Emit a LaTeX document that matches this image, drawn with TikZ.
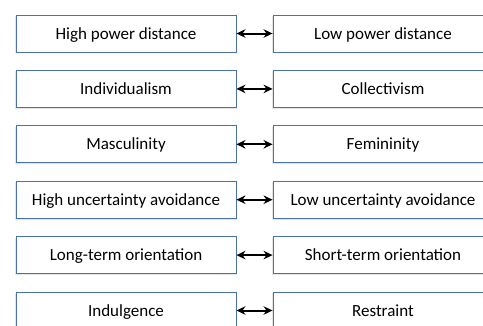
\documentclass[tikz,border=0pt]{standalone}
\usepackage{fontspec}
\setmainfont{Carlito}
\usetikzlibrary{arrows.meta,shadows}
\definecolor{boxblue}{HTML}{4A6FB5}
\tikzset{
  dim/.style={draw=boxblue, line width=0.9pt, fill=white, minimum width=220pt, minimum height=37pt,
    inner sep=0pt, text height=11pt, text depth=0pt, font=\fontsize{17pt}{20pt}\selectfont,
    drop shadow={opacity=0.2, shadow xshift=0pt, shadow yshift=-1.2pt, shadow scale=1.008}},
  link/.style={line width=2pt, {Stealth[length=9pt,width=8.5pt]}-{Stealth[length=9pt,width=8.5pt]}}
}
\begin{document}
\begin{tikzpicture}[x=1pt,y=-1pt]
\useasboundingbox (0,0) rectangle (483,325);
\clip (0,0) rectangle (483,325);
\fill[white] (0,0) rectangle (483,325);
\foreach \i/\l/\r in {0/High power distance/Low power distance,
                      1/Individualism/Collectivism,
                      2/Masculinity/Femininity,
                      3/High uncertainty avoidance/Low uncertainty avoidance,
                      4/Long-term orientation/Short-term orientation,
                      5/Indulgence/Restraint}{
  \node[dim] (L\i) at (126, 33.5+55.4*\i) {\l};
  \node[dim] (R\i) at (383, 33.5+55.4*\i) {\r};
  \draw[link] (L\i.east) -- (R\i.west);
}
\end{tikzpicture}
\end{document}
